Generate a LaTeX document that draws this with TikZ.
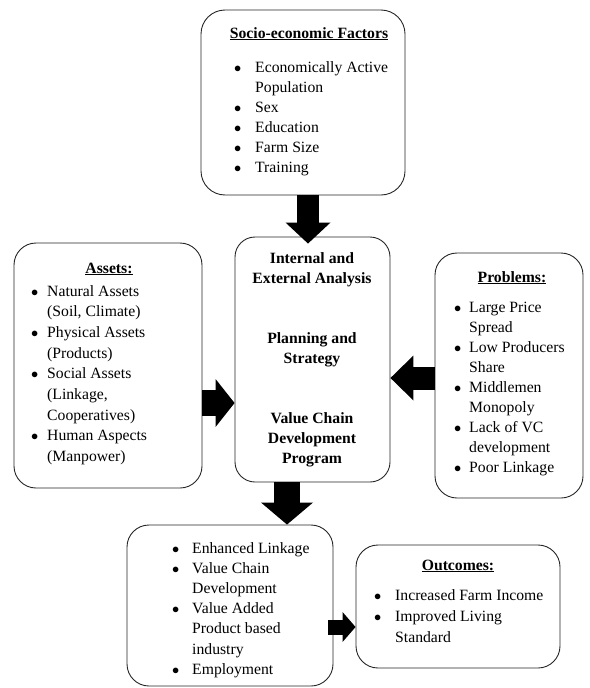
\documentclass[tikz,border=0pt]{standalone}
\usepackage{fontspec}
\setmainfont{Liberation Serif}
\usetikzlibrary{arrows.meta}
\newcommand{\blist}[2]{\begin{tabular}[t]{@{}p{#1}@{}l@{}}#2\end{tabular}}
\newcommand{\bul}{$\bullet$}
\tikzset{
  box/.style={draw=black!85,line width=0.9pt,rounded corners=#1,inner sep=0pt},
  box/.default=22pt,
  txt/.style={inner sep=0pt,font=\fontsize{15.7}{#1}\selectfont},
  txt/.default=20.2pt,
  head/.style={inner sep=0pt,anchor=base,font=\fontsize{15.7}{20pt}\selectfont\bfseries},
  items/.style={txt=#1,anchor=base west},
  fat/.style n args={3}{line width=#1pt,
    -{Triangle[width=#2pt,length=#3pt,line width=0pt]}}
}
\begin{document}
\begin{tikzpicture}[x=1pt,y=-1pt]
  \useasboundingbox (0,0) rectangle (589,688);
  \node (soc) [box=24pt,minimum width=204pt,minimum height=185pt] at (303,102.5) {};
  \node (ast) [box,minimum width=188pt,minimum height=245pt] at (108,365.5) {};
  \node (mid) [box=20pt,minimum width=155pt,minimum height=245pt] at (312.5,359.5) {};
  \node (prb) [box,minimum width=148pt,minimum height=245pt] at (509,375.5) {};
  \node (res) [box,minimum width=206pt,minimum height=161pt] at (230,605.5) {};
  \node (out) [box,minimum width=204pt,minimum height=123pt] at (458,606.5) {};

  \node (socT) [head] at (309,38) {\underline{Socio-economic Factors}};
  \node (socL) [items=20pt] at (234,72) {\blist{21pt}{%
    \bul & Economically Active\\ & Population\\
    \bul & Sex\\ \bul & Education\\
    \bul & Farm Size\\ \bul & Training}};

  \node (astT) [head] at (109,273) {\underline{Assets:}};
  \node (astL) [items=20.7pt] at (31,296) {\blist{16pt}{%
    \bul & Natural Assets\\ & (Soil, Climate)\\
    \bul & Physical Assets\\ & (Products)\\
    \bul & Social Assets\\ & (Linkage,\\ & Cooperatives)\\
    \bul & Human Aspects\\ & (Manpower)}};

  \node (midT) [head] at (312,263) {\begin{tabular}[t]{@{}c@{}}
    Internal and\\ External Analysis\\ \\ \\
    Planning and\\ Strategy\\ \\ \\
    Value Chain\\ Development\\ Program\end{tabular}};

  \node (prbT) [head] at (512,282) {\underline{Problems:}};
  \node (prbL) [items=20pt] at (454,312) {\blist{15pt}{%
    \bul & Large Price\\ & Spread\\
    \bul & Low Producers\\ & Share\\
    \bul & Middlemen\\ & Monopoly\\
    \bul & Lack of VC\\ & development\\
    \bul & Poor Linkage}};

  \node (resL) [items=20.2pt] at (172,553) {\blist{20pt}{%
    \bul & Enhanced Linkage\\
    \bul & Value Chain\\ & Development\\
    \bul & Value Added\\ & Product based\\ & industry\\
    \bul & Employment}};

  \node (outT) [head] at (458,570) {\underline{Outcomes:}};
  \node (outL) [items=21pt] at (374,600) {\blist{21pt}{%
    \bul & Increased Farm Income\\
    \bul & Improved Living\\ & Standard}};

  \draw[fat={22}{45}{21},shorten >=-7pt] (308,0 |- soc.south) -- (308,0 |- mid.north);
  \draw[fat={26}{48}{19}] (ast.east |- 0,403) -- (mid.west |- 0,403);
  \draw[fat={23}{45}{23}] (prb.west |- 0,378) -- (mid.east |- 0,378);
  \draw[fat={26}{52}{22}] (287,0 |- mid.south) -- (287,0 |- res.north);
  \draw[fat={15}{30}{13},shorten <=-5pt] (res.east |- 0,627) -- (out.west |- 0,627);
\end{tikzpicture}
\end{document}
